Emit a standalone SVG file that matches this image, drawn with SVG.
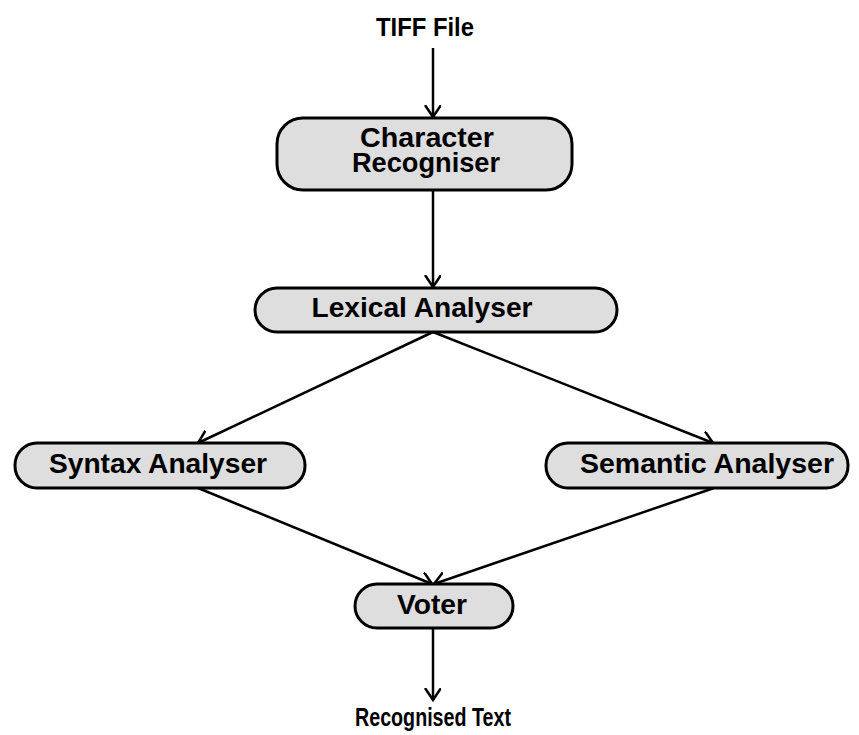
<svg xmlns="http://www.w3.org/2000/svg" width="859" height="735" viewBox="0 0 859 735">
<defs>
<style>
.box{fill:#dedede;stroke:#000;stroke-width:3}
.lbl{font-family:"Liberation Sans",Arial,sans-serif;font-weight:bold;font-size:27px;fill:#000;text-anchor:middle}
.io{font-family:"Liberation Sans",Arial,sans-serif;font-weight:bold;font-size:25px;fill:#000;text-anchor:middle}
.edge{stroke:#000;stroke-width:2.5;fill:none;marker-end:url(#arr)}
</style>
<marker id="arr" markerUnits="userSpaceOnUse" markerWidth="20" markerHeight="20" refX="12" refY="8" orient="auto" viewBox="0 0 20 20">
<path d="M0,0 L12,8 L0,16" fill="none" stroke="#000" stroke-width="2.5"/>
</marker>
</defs>
<rect width="859" height="735" fill="#fff"/>
<g id="connectors">
<line class="edge" x1="433" y1="48" x2="433" y2="117"/>
<line class="edge" x1="433" y1="190" x2="433" y2="287"/>
<line class="edge" x1="433" y1="332" x2="198" y2="443"/>
<line class="edge" x1="433" y1="332" x2="713" y2="443"/>
<line class="edge" x1="198" y1="488" x2="432" y2="584"/>
<line class="edge" x1="714" y1="488" x2="434" y2="584"/>
<line class="edge" x1="433" y1="628" x2="433" y2="700"/>
</g>
<g id="tiff">
<text class="io" x="425" y="36" textLength="98" lengthAdjust="spacingAndGlyphs">TIFF File</text>
</g>
<g id="charrec">
<rect class="box" x="277" y="118" width="295" height="72" rx="26" ry="26"/>
<text class="lbl" x="427" y="147" textLength="134" lengthAdjust="spacingAndGlyphs">Character</text>
<text class="lbl" x="426" y="172" textLength="148" lengthAdjust="spacingAndGlyphs">Recogniser</text>
</g>
<g id="lexical">
<rect class="box" x="255" y="288" width="362" height="44" rx="22" ry="22"/>
<text class="lbl" x="422" y="317" textLength="221" lengthAdjust="spacingAndGlyphs">Lexical Analyser</text>
</g>
<g id="syntax">
<rect class="box" x="15" y="443" width="290" height="45" rx="22" ry="22"/>
<text class="lbl" x="158" y="473" textLength="218" lengthAdjust="spacingAndGlyphs">Syntax Analyser</text>
</g>
<g id="semantic">
<rect class="box" x="546" y="443" width="302" height="45" rx="22" ry="22"/>
<text class="lbl" x="707" y="473" textLength="254" lengthAdjust="spacingAndGlyphs">Semantic Analyser</text>
</g>
<g id="voter">
<rect class="box" x="355" y="584" width="158" height="44" rx="22" ry="22"/>
<text class="lbl" x="432" y="614" textLength="70" lengthAdjust="spacingAndGlyphs">Voter</text>
</g>
<g id="output">
<text class="io" x="433" y="726" textLength="156" lengthAdjust="spacingAndGlyphs">Recognised Text</text>
</g>
</svg>
